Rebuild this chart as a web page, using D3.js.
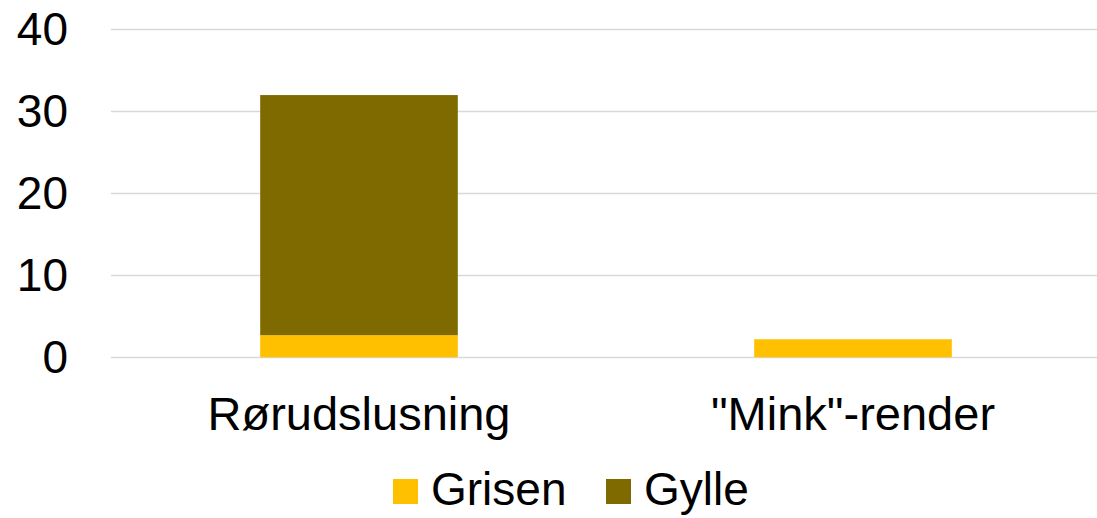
<!DOCTYPE html>
<html><head><meta charset="utf-8">
<script src="https://cdn.jsdelivr.net/npm/d3@7"></script>
<style>body{margin:0;background:#fff}svg{display:block}text{font-family:"Liberation Sans",Arial,sans-serif;fill:#000}</style>
</head><body>
<script>
const categories = ["Rørudslusning", "\"Mink\"-render"];
const seriesNames = ["Grisen", "Gylle"];
const grisen = [2.7, 2.2];
const gylle = [29.25, 0];
const yTicks = [0, 10, 20, 30, 40];
const colors = ["#FFC000", "#7F6A00"];

const W = 1097, H = 518;
const svg = d3.select("body").append("svg").attr("width", W).attr("height", H);
const x = d3.scaleBand().domain(categories).range([112, 1100]).paddingInner(0.6).paddingOuter(0.3);
const y = d3.scaleLinear().domain([0, 40]).range([357.3, 29]);

svg.append("g").selectAll("line").data(yTicks).join("line")
  .attr("x1", 111).attr("x2", 1097)
  .attr("y1", d => Math.round(y(d)) + 0.5).attr("y2", d => Math.round(y(d)) + 0.5)
  .attr("stroke", "#d9d9d9").attr("stroke-width", 1.5);

svg.append("g").selectAll("text").data(yTicks).join("text")
  .attr("x", 68).attr("y", d => y(d)).attr("dy", "0.35em")
  .attr("text-anchor", "end").attr("font-size", 46).text(d => d);

const data = categories.map((c, i) => ({cat: c, Grisen: grisen[i], Gylle: gylle[i]}));
const stacked = d3.stack().keys(seriesNames)(data);
svg.append("g").selectAll("g").data(stacked).join("g")
  .attr("fill", (d, i) => colors[i])
  .selectAll("rect").data(d => d).join("rect")
  .attr("x", d => x(d.data.cat)).attr("width", x.bandwidth())
  .attr("y", d => y(d[1])).attr("height", d => y(d[0]) - y(d[1]));

svg.append("g").selectAll("text").data(categories).join("text")
  .attr("x", d => x(d) + x.bandwidth() / 2).attr("y", 430)
  .attr("text-anchor", "middle").attr("font-size", 47).text(d => d);

const legendX = [393, 606];
const lg = svg.append("g").selectAll("g").data(seriesNames).join("g")
  .attr("transform", (d, i) => `translate(${legendX[i]},0)`);
lg.append("rect").attr("x", 0).attr("y", 479).attr("width", 25).attr("height", 25)
  .attr("fill", (d, i) => colors[i]);
lg.append("text").attr("x", 38).attr("y", 505).attr("font-size", 46).text(d => d);
</script>
</body></html>
